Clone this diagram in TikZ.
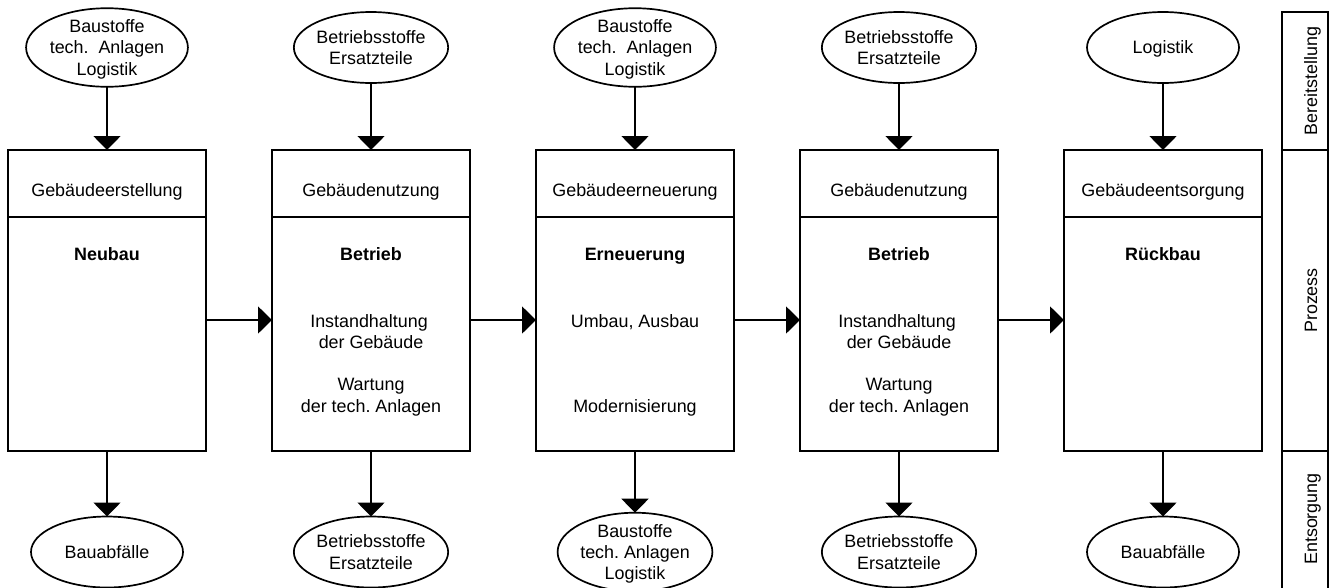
\documentclass[tikz,border=0pt]{standalone}
\usepackage{fontspec}
\setmainfont{Liberation Sans}
\usetikzlibrary{arrows.meta,shapes.geometric}
\frenchspacing
\begin{document}
\begin{tikzpicture}[x=1pt,y=-1pt,
  every node/.style={font=\fontsize{17.9}{21.3}\selectfont, inner sep=0pt, outer sep=0pt},
  frame/.style={draw, line width=1.8pt, minimum width=198pt, minimum height=301pt},
  head/.style={draw, line width=1.8pt, minimum width=198pt, minimum height=66.7pt},
  res/.style={draw, ellipse, line width=1.7pt, minimum width=152pt, minimum height=71pt, align=center, text depth=0pt},
  txt/.style={anchor=base},
  bold/.style={anchor=base, font=\fontsize{17.9}{21.3}\selectfont\bfseries},
  side/.style={draw, line width=1.8pt, minimum width=46pt},
  sidetxt/.style={anchor=base, rotate=90},
  flow/.style={-{Triangle[length=14pt,width=27pt]}, line width=1.8pt},
]
\fill[white] (0,0) rectangle (1329,587);
\useasboundingbox (0,0) rectangle (1329,587);

% process boxes
\node[frame] (b1) at (107,300.5) {};
\node[frame] (b2) at (371,300.5) {};
\node[frame] (b3) at (635,300.5) {};
\node[frame] (b4) at (899,300.5) {};
\node[frame] (b5) at (1163,300.5) {};
\node[head] (h1) at (107,183.35) {};
\node[head] (h2) at (371,183.35) {};
\node[head] (h3) at (635,183.35) {};
\node[head] (h4) at (899,183.35) {};
\node[head] (h5) at (1163,183.35) {};

% headers
\node[txt] (h1t) at (107,196.7) {Gebäudeerstellung};
\node[txt] (h2t) at (371,196.7) {Gebäudenutzung};
\node[txt] (h3t) at (635,196.7) {Gebäudeerneuerung};
\node[txt] (h4t) at (899,196.7) {Gebäudenutzung};
\node[txt] (h5t) at (1163,196.7) {Gebäudeentsorgung};

% box contents
\node[bold] (p1) at (107,260.7) {Neubau};
\node[bold] (p2) at (371,260.7) {Betrieb};
\node[bold] (p3) at (635,260.7) {Erneuerung};
\node[bold] (p4) at (899,260.7) {Betrieb};
\node[bold] (p5) at (1163,260.7) {Rückbau};

\node[txt] (p2a) at (369,327) {Instandhaltung};
\node[txt] (p2b) at (371,348) {der Gebäude};
\node[txt] (p2c) at (371,390.7) {Wartung};
\node[txt] (p2d) at (371,412.7) {der tech. Anlagen};

\node[txt] (p3a) at (635,327) {Umbau, Ausbau};
\node[txt] (p3b) at (635,412.7) {Modernisierung};

\node[txt] (p4a) at (897,327) {Instandhaltung};
\node[txt] (p4b) at (899,348) {der Gebäude};
\node[txt] (p4c) at (899,390.7) {Wartung};
\node[txt] (p4d) at (899,412.7) {der tech. Anlagen};

% supplied resources
\node[res] (t1) at (107,47.5) {Baustoffe\\tech.\ \ Anlagen\\Logistik};
\node[res] (t2) at (371,47.5) {Betriebsstoffe\\Ersatzteile};
\node[res] (t3) at (635,47.5) {Baustoffe\\tech.\ \ Anlagen\\Logistik};
\node[res] (t4) at (899,47.5) {Betriebsstoffe\\Ersatzteile};
\node[res] (t5) at (1163,47.5) {Logistik};

% disposed resources
\node[res] (d1) at (107,552) {Bauabfälle};
\node[res] (d2) at (371,552) {Betriebsstoffe\\Ersatzteile};
\node[res] (d3) at (635,552) {Baustoffe\\tech. Anlagen\\Logistik};
\node[res] (d4) at (899,552) {Betriebsstoffe\\Ersatzteile};
\node[res] (d5) at (1163,552) {Bauabfälle};

% connectors
\foreach \i in {1,...,5} {
  \draw[flow] (t\i.south) -- (h\i.north);
  \draw[flow] (b\i.south) -- (d\i.north);
}
\foreach \i/\j in {1/2,2/3,3/4,4/5} {
  \draw[flow] ([yshift=-19.5pt]b\i.east) -- ([yshift=-19.5pt]b\j.west);
}

% phase column
\node[side, minimum height=138pt] (sb) at (1305,81) {};
\node[side, minimum height=301pt] (sp) at (1305,300.5) {};
\node[side, minimum height=144pt] (se) at (1305,523) {};
\node[sidetxt] (sbt) at (1317,81) {Bereitstellung};
\node[sidetxt] (spt) at (1317,300.5) {Prozess};
\node[sidetxt] (set) at (1317,519) {Entsorgung};
\end{tikzpicture}
\end{document}
